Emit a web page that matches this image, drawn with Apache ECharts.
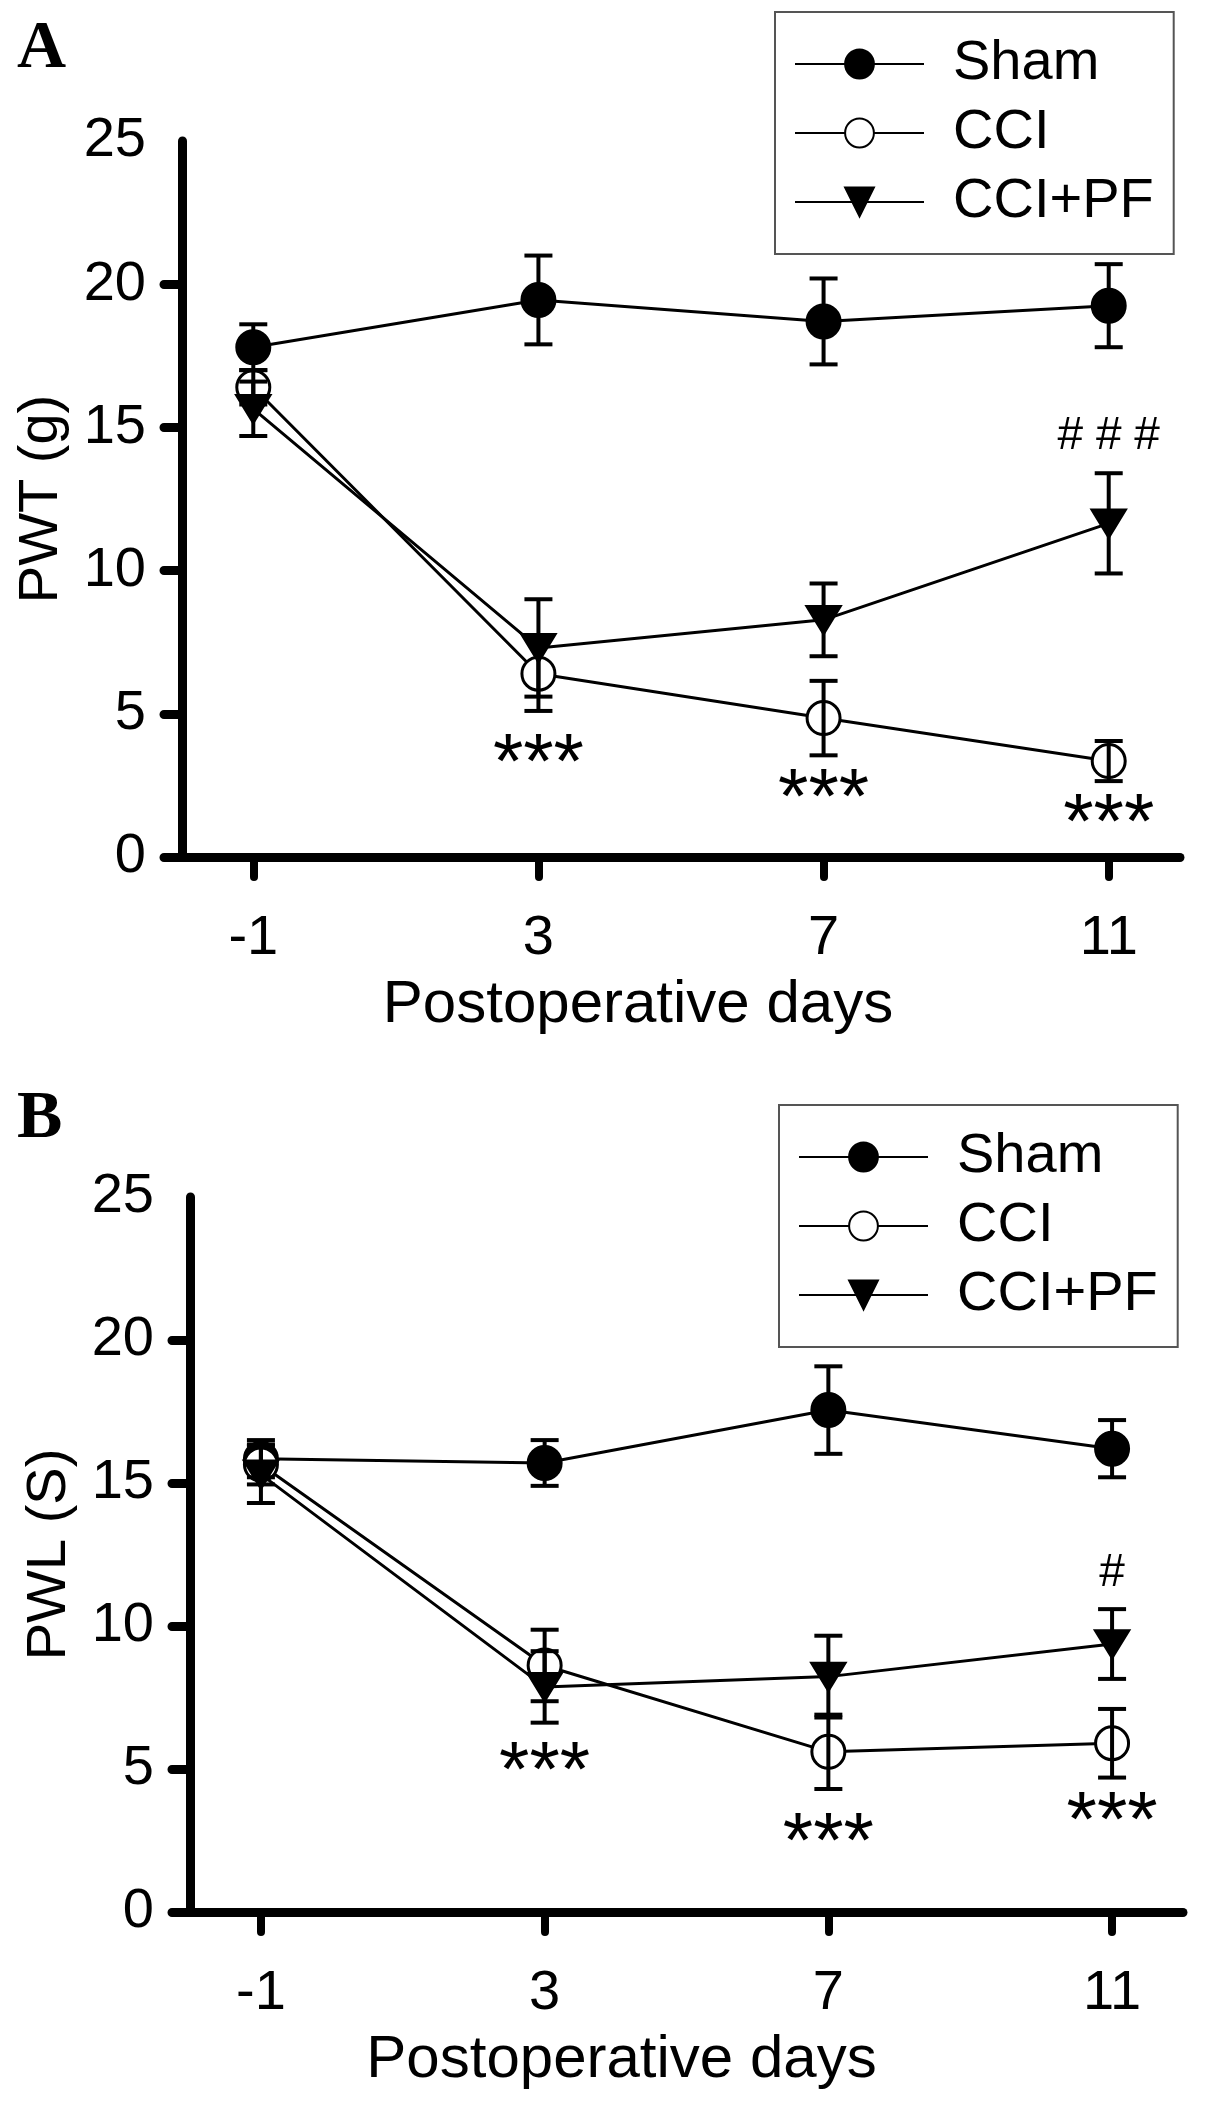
<!DOCTYPE html>
<html lang="en">
<head>
    <meta charset="UTF-8">
    <title>PWT / PWL</title>
    <script src="https://cdn.jsdelivr.net/npm/echarts@6.0.0/dist/echarts.min.js"></script>
    <style>body { margin: 0; background: #fff; }</style>
</head>
<body>
<div id="main" style="width: 1205px;height:2114px;"></div>
<script type="text/javascript">
    // data
    const days = [-1, 3, 7, 11];
    const yTicks = [0, 5, 10, 15, 20];

    // panel A - PWT (g)
    const pwtSham = [17.8, 19.45, 18.7, 19.25];
    const pwtShamErr = [0.8, 1.55, 1.5, 1.45];
    const pwtCci = [16.4, 6.4, 4.85, 3.35];
    const pwtCciErr = [0.6, 1.3, 1.3, 0.7];
    const pwtPf = [15.65, 7.3, 8.28, 11.65];
    const pwtPfErr = [0.95, 1.7, 1.27, 1.75];
    // significance marks: [day, y, text]
    const sigA = [[3, 3.8, '***'], [7, 2.58, '***'], [11, 1.68, '***'], [11, 14.7, '# # #']];

    // panel B - PWL (S)
    const pwlSham = [15.85, 15.7, 17.55, 16.2];
    const pwlShamErr = [0.65, 0.8, 1.53, 1.0];
    const pwlCci = [15.65, 8.62, 5.6, 5.9];
    const pwlCciErr = [0.7, 1.25, 1.3, 1.2];
    const pwlPf = [15.3, 7.87, 8.23, 9.37];
    const pwlPfErr = [1.0, 1.25, 1.43, 1.22];
    const sigB = [[3, 5.43, '***'], [7, 2.97, '***'], [11, 3.7, '***'], [11, 11.84, '#']];

    const FONT = 'Liberation Sans';

    function pts(vals) { return days.map((d, i) => [d, vals[i]]); }
    function errPts(vals, errs) { return days.map((d, i) => [d, vals[i], errs[i]]); }

    // error bars with caps, drawn through the axis scales
    function errorBars(idx, vals, errs) {
        return {
            type: 'custom', xAxisIndex: idx, yAxisIndex: idx, z: 5,
            data: errPts(vals, errs),
            renderItem: function (params, api) {
                const x = api.value(0), y = api.value(1), e = api.value(2);
                const top = api.coord([x, y + e]);
                const bot = api.coord([x, y - e]);
                const hw = 14;
                const st = { stroke: '#000', lineWidth: 4 };
                return {
                    type: 'group',
                    children: [
                        { type: 'line', shape: { x1: top[0], y1: top[1], x2: bot[0], y2: bot[1] }, style: st },
                        { type: 'line', shape: { x1: top[0] - hw, y1: top[1], x2: top[0] + hw, y2: top[1] }, style: st },
                        { type: 'line', shape: { x1: bot[0] - hw, y1: bot[1], x2: bot[0] + hw, y2: bot[1] }, style: st }
                    ]
                };
            }
        };
    }

    // text annotations (*** / #)
    function marks(idx, list) {
        return {
            type: 'custom', xAxisIndex: idx, yAxisIndex: idx, z: 6,
            data: list,
            renderItem: function (params, api) {
                const p = api.coord([api.value(0), api.value(1)]);
                const txt = list[params.dataIndex][2];
                const star = txt.indexOf('*') >= 0;
                return {
                    type: 'text',
                    x: p[0], y: p[1] + (star ? 18 : 0),
                    style: {
                        text: txt, fill: '#000',
                        fontFamily: FONT,
                        fontSize: star ? 78 : 46,
                        align: 'center', verticalAlign: 'middle'
                    }
                };
            }
        };
    }

    function lineSeries(idx, name, vals, kind) {
        const s = {
            name: name, type: 'line', xAxisIndex: idx, yAxisIndex: idx, z: 3,
            data: pts(vals),
            lineStyle: { color: '#000', width: 3 },
            symbol: 'circle', symbolSize: 33,
            itemStyle: { color: '#000', borderColor: '#000', borderWidth: 3 }
        };
        if (kind === 'open') s.itemStyle.color = '#fff';
        if (kind === 'tri') { s.symbol = 'triangle'; s.symbolRotate = 180; s.symbolSize = [33, 27]; }
        return s;
    }

    function xAxis(idx, shift) {
        return {
            type: 'value', gridIndex: idx, min: -2, max: 12,
            name: 'Postoperative days', nameLocation: 'middle', nameGap: 118,
            nameTextStyle: { fontFamily: FONT, fontSize: 60, color: '#000', padding: [0, shift, 0, 0] },
            axisLine: { show: true, onZero: false, lineStyle: { color: '#000', width: 9, cap: 'round' } },
            axisTick: { show: true, customValues: days, length: 20, lineStyle: { color: '#000', width: 8, cap: 'round' } },
            axisLabel: { customValues: days, fontFamily: FONT, fontSize: 56, color: '#000', margin: 54 },
            splitLine: { show: false }
        };
    }

    function yAxis(idx, title) {
        return {
            type: 'value', gridIndex: idx, min: 0, max: 25, interval: 5,
            name: title, nameLocation: 'middle', nameGap: 112,
            nameTextStyle: { fontFamily: FONT, fontSize: 56, color: '#000' },
            axisLine: { show: true, onZero: false, lineStyle: { color: '#000', width: 9, cap: 'round' } },
            axisTick: { show: true, customValues: yTicks, length: 18, lineStyle: { color: '#000', width: 9, cap: 'round' } },
            axisLabel: { fontFamily: FONT, fontSize: 56, color: '#000', margin: 36 },
            splitLine: { show: false }
        };
    }

    function legend(left, top, names) {
        return {
            data: names, orient: 'vertical', left: left, top: top,
            itemWidth: 129, itemHeight: 36, itemGap: 13,
            padding: [24, 20, 24, 19],
            borderColor: '#555', borderWidth: 2,
            textStyle: { fontFamily: FONT, fontSize: 56, color: '#000', padding: [0, 0, 0, 24] }
        };
    }

    const names = ['Sham', 'CCI', 'CCI+PF'];

    let options = {
        animation: false,
        backgroundColor: '#fff',
        title: [
            { text: 'A', left: 12, top: 10, textStyle: { fontFamily: 'Liberation Serif', fontWeight: 'bold', fontSize: 68, color: '#000' } },
            { text: 'B', left: 12, top: 1080, textStyle: { fontFamily: 'Liberation Serif', fontWeight: 'bold', fontSize: 68, color: '#000' } }
        ],
        legend: [legend(775, 12, names), legend(779, 1105, names)],
        grid: [
            { left: 182, top: 141, width: 998, height: 716 },
            { left: 190, top: 1197, width: 993, height: 715 }
        ],
        xAxis: [xAxis(0, 86), xAxis(1, 130)],
        yAxis: [yAxis(0, 'PWT (g)'), yAxis(1, 'PWL (S)')],
        series: [
            lineSeries(0, 'Sham', pwtSham, 'fill'),
            lineSeries(0, 'CCI', pwtCci, 'open'),
            lineSeries(0, 'CCI+PF', pwtPf, 'tri'),
            errorBars(0, pwtSham, pwtShamErr),
            errorBars(0, pwtCci, pwtCciErr),
            errorBars(0, pwtPf, pwtPfErr),
            marks(0, sigA),
            lineSeries(1, 'Sham', pwlSham, 'fill'),
            lineSeries(1, 'CCI', pwlCci, 'open'),
            lineSeries(1, 'CCI+PF', pwlPf, 'tri'),
            errorBars(1, pwlSham, pwlShamErr),
            errorBars(1, pwlCci, pwlCciErr),
            errorBars(1, pwlPf, pwlPfErr),
            marks(1, sigB)
        ]
    };

    let myChart = echarts.init(document.getElementById('main'));
    myChart.setOption(options);
</script>
</body>
</html>
